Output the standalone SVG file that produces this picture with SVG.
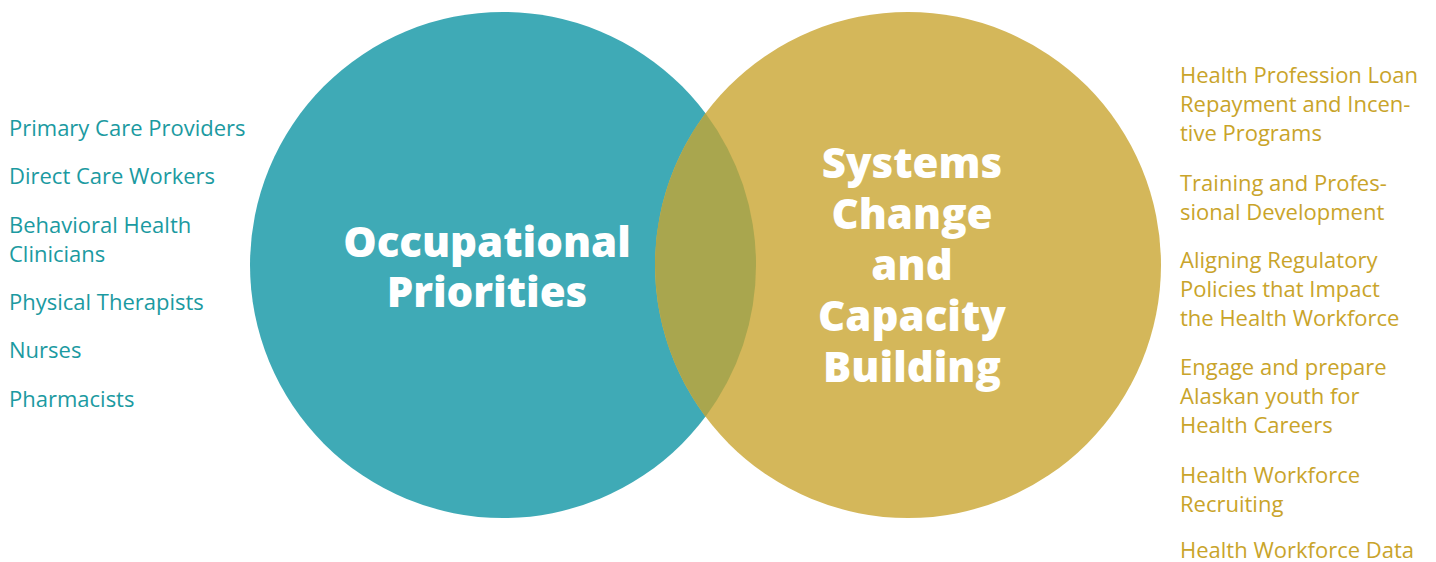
<svg xmlns="http://www.w3.org/2000/svg" width="1436" height="562" viewBox="0 0 1436 562">
<style>
.l{font-family:"Open Sans","Noto Sans","Liberation Sans",sans-serif;font-size:22px;fill:#1B9AA1}
.r{font-family:"Open Sans","Noto Sans","Liberation Sans",sans-serif;font-size:22px;fill:#C9A42A}
.t{font-family:"Open Sans","Noto Sans","Liberation Sans",sans-serif;font-size:42px;font-weight:800;fill:#FFFFFF;text-anchor:middle}
</style>
<rect width="1436" height="562" fill="#FFFFFF"/>
<g id="occupational">
<circle cx="503" cy="265" r="253" fill="#3FAAB6"/>
</g>
<g id="systems">
<circle cx="908" cy="265" r="253" fill="#D4B75A"/>
</g>
<g id="overlap">
<path d="M705.5,113.3 A253,253 0 0 1 705.5,416.7 A253,253 0 0 1 705.5,113.3 Z" fill="#A9A64E"/>
</g>
<g id="occupational-label">
<text class="t" x="487" y="257">Occupational</text>
<text class="t" x="487" y="307">Priorities</text>
</g>
<g id="systems-label">
<text class="t" x="912" y="178">Systems</text>
<text class="t" x="912" y="229">Change</text>
<text class="t" x="912" y="280">and</text>
<text class="t" x="912" y="331">Capacity</text>
<text class="t" x="912" y="382">Building</text>
</g>
<g id="left-list">
<text class="l" x="9" y="136">Primary Care Providers</text>
<text class="l" x="9" y="184">Direct Care Workers</text>
<text class="l" x="9" y="233">Behavioral Health</text>
<text class="l" x="9" y="262">Clinicians</text>
<text class="l" x="9" y="310">Physical Therapists</text>
<text class="l" x="9" y="358">Nurses</text>
<text class="l" x="9" y="407">Pharmacists</text>
</g>
<g id="right-list">
<text class="r" x="1180" y="83">Health Profession Loan</text>
<text class="r" x="1180" y="112">Repayment and Incen-</text>
<text class="r" x="1180" y="141">tive Programs</text>
<text class="r" x="1180" y="191">Training and Profes-</text>
<text class="r" x="1180" y="220">sional Development</text>
<text class="r" x="1180" y="268">Aligning Regulatory</text>
<text class="r" x="1180" y="297">Policies that Impact</text>
<text class="r" x="1180" y="326">the Health Workforce</text>
<text class="r" x="1180" y="375">Engage and prepare</text>
<text class="r" x="1180" y="404">Alaskan youth for</text>
<text class="r" x="1180" y="433">Health Careers</text>
<text class="r" x="1180" y="483">Health Workforce</text>
<text class="r" x="1180" y="512">Recruiting</text>
<text class="r" x="1180" y="558">Health Workforce Data</text>
</g>
</svg>
